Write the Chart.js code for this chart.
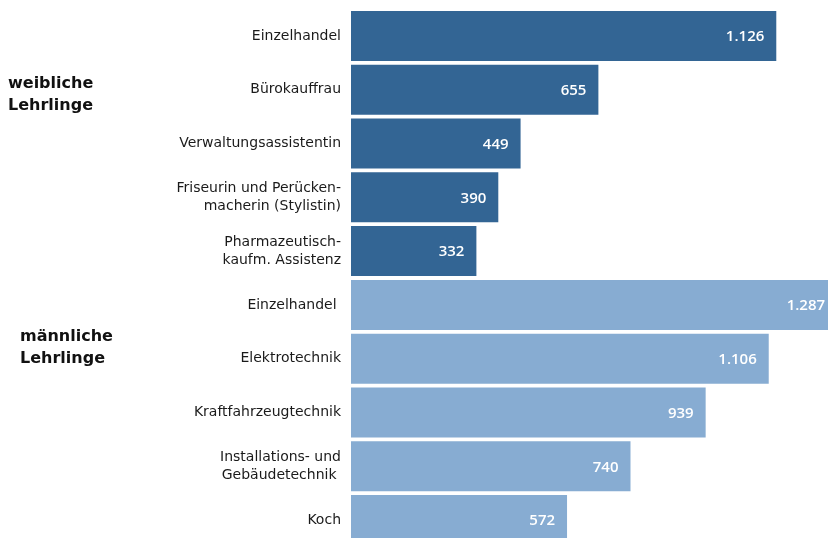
<!DOCTYPE html>
<html>
<head>
<meta charset="utf-8">
<script src="https://cdn.jsdelivr.net/npm/chart.js@4/dist/chart.umd.min.js"></script>
<style>
  html, body { margin: 0; padding: 0; background: #fff; overflow: hidden; }
  #wrap { width: 842px; height: 548px; }
</style>
</head>
<body>
<div id="wrap"><canvas id="chart"></canvas></div>
<script>
// categories (top to bottom)
const categories = [
  "Einzelhandel",
  "Bürokauffrau",
  "Verwaltungsassistentin",
  ["Friseurin und Perücken-", "macherin (Stylistin)"],
  ["Pharmazeutisch-", "kaufm. Assistenz"],
  "Einzelhandel ",
  "Elektrotechnik",
  "Kraftfahrzeugtechnik",
  ["Installations- und", "Gebäudetechnik "],
  "Koch"
];
const values = [1126, 655, 449, 390, 332, 1287, 1106, 939, 740, 572];
// which group each bar belongs to: 0 = weiblich, 1 = männlich
const groupOf = [0, 0, 0, 0, 0, 1, 1, 1, 1, 1];
const groupNames = [["weibliche", "Lehrlinge"], ["männliche", "Lehrlinge"]];
const groupColors = ["#336594", "#87acd2"];

function fmt(n) {
  return String(n).replace(/\B(?=(\d{3})+(?!\d))/g, ".");
}

// value labels inside bar ends + group titles on the left
const labelPlugin = {
  id: "labels",
  afterDatasetsDraw(chart) {
    const ctx = chart.ctx;
    const meta = chart.getDatasetMeta(0);
    ctx.save();
    ctx.font = "600 15px 'Open Sans', 'DejaVu Sans', sans-serif";
    ctx.fillStyle = "#ffffff";
    ctx.textAlign = "right";
    ctx.textBaseline = "middle";
    meta.data.forEach((bar, i) => {
      ctx.fillText(fmt(values[i]), bar.x - 12, bar.y + 1);
    });
    ctx.restore();
  },
  afterDraw(chart) {
    const ctx = chart.ctx;
    ctx.save();
    ctx.font = "bold 16px 'DejaVu Sans', sans-serif";
    ctx.fillStyle = "#111111";
    ctx.textAlign = "left";
    ctx.textBaseline = "middle";
    ctx.fillText(groupNames[0][0], 8, 84);
    ctx.fillText(groupNames[0][1], 8, 106);
    ctx.fillText(groupNames[1][0], 20, 337);
    ctx.fillText(groupNames[1][1], 20, 359);
    ctx.restore();
  }
};

new Chart(document.getElementById("chart"), {
  type: "bar",
  data: {
    labels: categories,
    datasets: [{
      data: values,
      backgroundColor: groupOf.map((g) => groupColors[g]),
      borderWidth: 0,
      barPercentage: 0.93,
      categoryPercentage: 1.0
    }]
  },
  options: {
    indexAxis: "y",
    responsive: true,
    maintainAspectRatio: false,
    animation: false,
    layout: { padding: { top: 9, bottom: 1, left: 0, right: 0 } },
    plugins: {
      legend: { display: false },
      tooltip: { enabled: false }
    },
    scales: {
      x: {
        display: false,
        min: 0,
        max: 1300
      },
      y: {
        grid: { display: false },
        border: { display: false },
        ticks: {
          padding: 2,
          color: "#1a1a1a",
          font: { family: "'DejaVu Sans', sans-serif", size: 14, lineHeight: 1.3 }
        },
        afterFit(scale) {
          scale.width = 351;
          scale.paddingTop = 0;
          scale.paddingBottom = 0;
        }
      }
    }
  },
  plugins: [labelPlugin]
});
</script>
</body>
</html>
